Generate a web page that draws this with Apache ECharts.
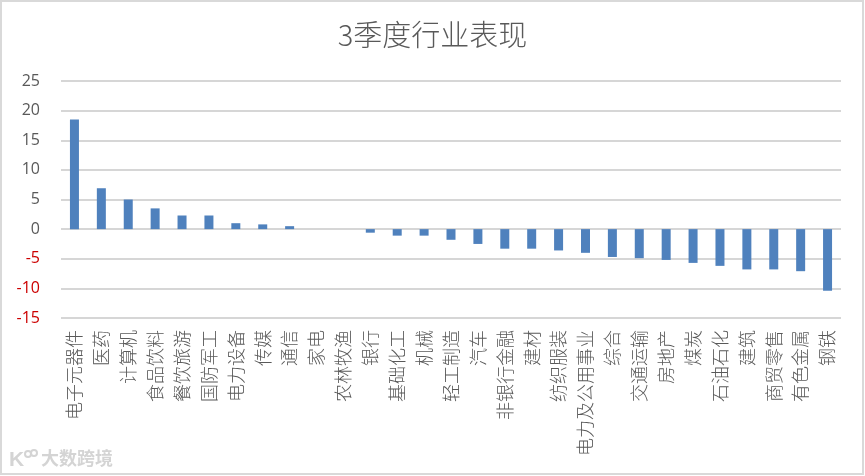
<!DOCTYPE html>
<html><head><meta charset="utf-8">
<style>html,body{margin:0;padding:0;background:#fff}#c{width:865px;height:476px}</style>
<script src="https://cdn.jsdelivr.net/npm/echarts@6/dist/echarts.min.js"></script>
</head><body><div id="c"></div>
<script>
const titleText = '3季度行业表现';
const watermarkText = '大数跨境';
const categories = ['电子元器件','医药','计算机','食品饮料','餐饮旅游','国防军工','电力设备','传媒','通信','家电','农林牧渔','银行','基础化工','机械','轻工制造','汽车','非银行金融','建材','纺织服装','电力及公用事业','综合','交通运输','房地产','煤炭','石油石化','建筑','商贸零售','有色金属','钢铁'];
const values = [18.5,6.9,5,3.5,2.3,2.3,1,0.8,0.5,0,0,-0.6,-1.1,-1.1,-1.8,-2.5,-3.3,-3.3,-3.6,-4,-4.7,-4.9,-5.2,-5.7,-6.2,-6.8,-6.8,-7.1,-10.4];
const cjk = '"Noto Sans CJK SC","Noto Sans",sans-serif';
const chart = echarts.init(document.getElementById('c'), null, {renderer:'canvas'});
chart.setOption({
  animation:false,
  backgroundColor:'#fff',
  title:{text:titleText,left:'center',top:15,textStyle:{fontFamily:cjk,fontSize:29,fontWeight:300,color:'#595959'}},
  grid:{left:61,right:24,top:81,bottom:158},
  xAxis:{type:'category',data:categories,position:'bottom',
    axisLine:{show:false,onZero:false},axisTick:{show:false},splitLine:{show:false},
    axisLabel:{interval:0,rotate:90,margin:12,fontFamily:cjk,fontSize:18,fontWeight:300,color:'#595959'}},
  yAxis:{type:'value',min:-15,max:25,interval:5,
    axisLine:{show:false},axisTick:{show:false},
    splitLine:{lineStyle:{color:'#D6D6D6',width:2}},
    axisLabel:{margin:21,fontFamily:'"Open Sans",sans-serif',fontSize:16,
      color:v=>v<0?'#CC0000':'#595959'}},
  series:[{type:'bar',data:values,barWidth:9,itemStyle:{color:'#4F81BD'}}],
  graphic:[
    {type:'rect',silent:true,shape:{x:1,y:1,width:862,height:473},style:{fill:'none',stroke:'#D9D9D9',lineWidth:2}},
    {type:'text',left:9,top:450,style:{text:'K',fontFamily:'"Liberation Sans",sans-serif',fontSize:21,fontWeight:'bold',fill:'#D4D4D4'}},
    {type:'circle',silent:true,shape:{cx:28,cy:454,r:3},style:{fill:'none',stroke:'#D4D4D4',lineWidth:2}},
    {type:'circle',silent:true,shape:{cx:34,cy:453,r:3},style:{fill:'none',stroke:'#D4D4D4',lineWidth:2}},
    {type:'text',left:41,top:449,style:{text:watermarkText,fontFamily:cjk,fontSize:18,fontWeight:'bold',fill:'#D4D4D4'}}
  ]
});
</script></body></html>
